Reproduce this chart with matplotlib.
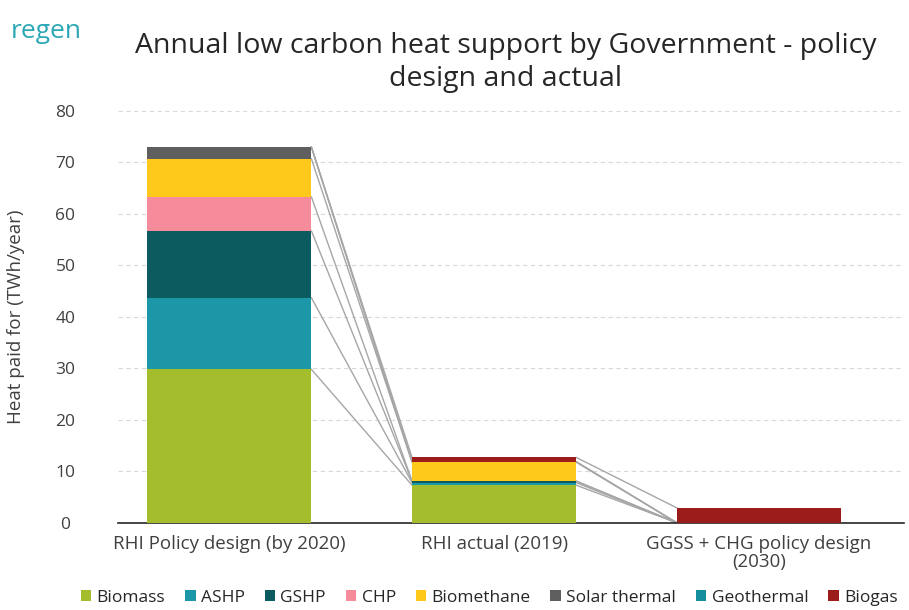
"""Annual low carbon heat support by Government - stacked bars with series lines."""

import matplotlib

matplotlib.use("Agg")
import matplotlib.pyplot as plt
import numpy as np

categories = ["RHI Policy design (by 2020)", "RHI actual (2019)", "GGSS + CHG policy design\n(2030)"]
series = ["Biomass", "ASHP", "GSHP", "CHP", "Biomethane", "Solar thermal", "Geothermal", "Biogas"]
biomass = [29.8, 7.3, 0.0]
ashp = [13.9, 0.5, 0.0]
gshp = [13.0, 0.3, 0.0]
chp = [6.6, 0.0, 0.0]
biomethane = [7.4, 3.7, 0.0]
solar_thermal = [2.3, 0.0, 0.0]
geothermal = [0.0, 0.1, 0.0]
biogas = [0.0, 0.8, 2.9]
colors = ["#a4bd2c", "#1b97a8", "#0c5b5f", "#f68b9c", "#ffc91b", "#5f5f5f", "#13909b", "#9c1c1c"]

values = [biomass, ashp, gshp, chp, biomethane, solar_thermal, geothermal, biogas]

plt.rcParams["font.family"] = ["Open Sans", "DejaVu Sans"]

fig = plt.figure(figsize=(9.09, 6.10), dpi=100)
ax = fig.add_axes([0.13, 0.143, 0.865, 0.675])

x = np.arange(len(categories))
w = 0.62
bottom = np.zeros(len(categories))
tops = []
for name, vals, c in zip(series, values, colors):
    vals = np.array(vals)
    ax.bar(x, vals, w, bottom=bottom, color=c, label=name, zorder=3)
    bottom = bottom + vals
    tops.append(bottom.copy())

# Excel-style series lines joining the top of each segment
for top in tops:
    for i in range(len(categories) - 1):
        ax.plot([x[i] + w / 2, x[i + 1] - w / 2], [top[i], top[i + 1]],
                color="#a6a6a6", lw=1.0, zorder=2)

ax.set_ylim(0, 80)
ax.set_xlim(-0.42, 2.55)
ax.set_yticks(range(0, 81, 10))
ax.set_xticks(x)
ax.set_xticklabels(categories, linespacing=1.0)
ax.yaxis.grid(True, ls=(0, (4, 3)), color="#d9d9d9", lw=0.8, zorder=0)
for s in ["top", "right", "left"]:
    ax.spines[s].set_visible(False)
ax.spines["bottom"].set_color("#262626")
ax.spines["bottom"].set_linewidth(1.2)
ax.tick_params(axis="both", length=0, colors="#404040")
ax.tick_params(axis="y", labelsize=12.5, pad=38)
ax.tick_params(axis="x", labelsize=13.5, pad=9)
for t in ax.get_yticklabels():
    t.set_horizontalalignment("center")
ax.set_ylabel("Heat paid for (TWh/year)", fontsize=13.5, color="#404040", labelpad=22)

fig.text(0.556, 0.897, "Annual low carbon heat support by Government - policy\ndesign and actual",
         ha="center", va="center", fontsize=20.5, color="#262626", linespacing=1.25)
fig.text(0.012, 0.948, "regen", fontsize=19, color="#2aa7b5", ha="left", va="center")

ax.legend(loc="lower center", bbox_to_anchor=(0.472, -0.24), ncol=8, frameon=False,
          fontsize=12.5, handlelength=0.6, handleheight=0.6, handletextpad=0.3,
          columnspacing=1.15, labelcolor="#262626")

fig.savefig("out.png", dpi=100)
